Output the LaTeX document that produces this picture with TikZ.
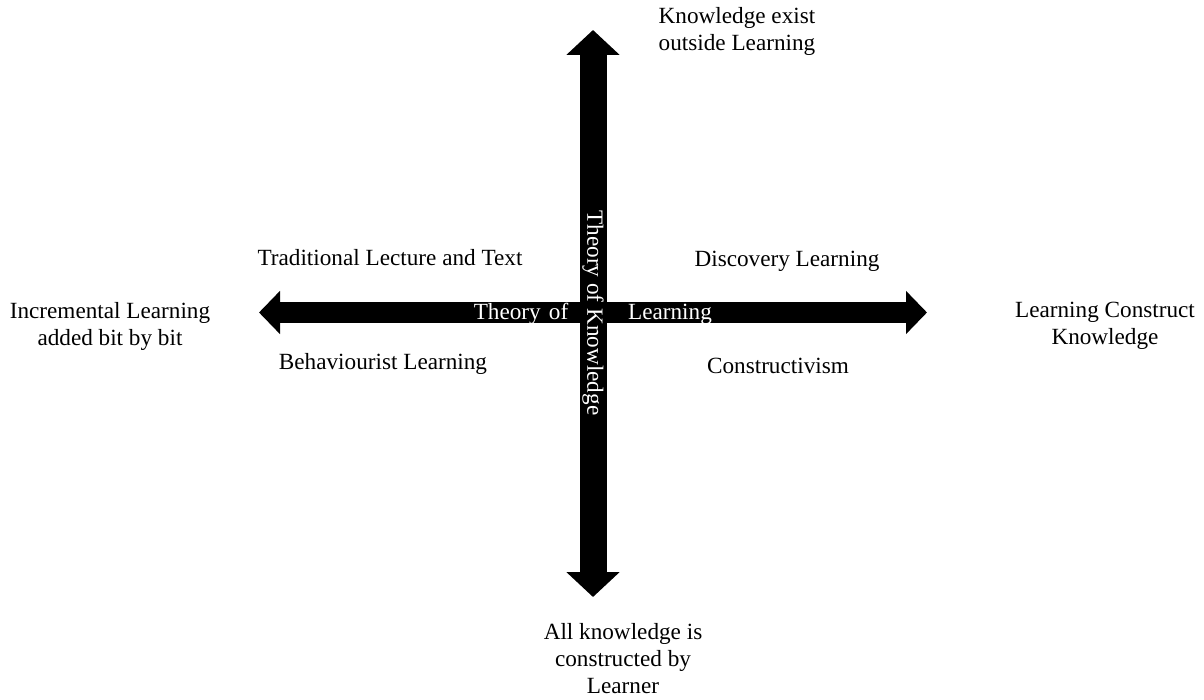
\documentclass[tikz,border=0pt]{standalone}
\usepackage{fontspec}
\setmainfont{Liberation Serif}
\usetikzlibrary{arrows.meta}
\tikzset{
  lbl/.style={font=\fontsize{23.2}{27}\selectfont, align=center, inner sep=0pt, text=black},
  onarrow/.style={font=\fontsize{23.2}{27}\selectfont, inner sep=0pt, text=white},
  vaxis/.style={line width=27pt, {Triangle[width=52pt,length=25pt]}-{Triangle[width=52pt,length=25pt]}},
  haxis/.style={line width=21pt, {Triangle[width=42pt,length=21pt]}-{Triangle[width=42pt,length=21pt]}},
}
\begin{document}
\begin{tikzpicture}[x=1pt,y=-1pt]
\useasboundingbox (0,0) rectangle (1204,700);
\coordinate (ltip) at (259,312.5);
\coordinate (rtip) at (927,312.5);
\coordinate (ttip) at (593,30);
\coordinate (btip) at (593,597);
\draw[haxis] (ltip) -- (rtip);
\draw[vaxis] (ttip) -- (btip);
\node[onarrow] (tol) at (521,314) {Theory\hspace{0.35em}of};
\node[onarrow] (lrn) at (670,314) {Learning};
\node[onarrow, rotate=-90] (tok) at (593,313) {Theory of Knowledge};
\node[lbl] (top) at (737,31) {Knowledge exist\\outside Learning};
\node[lbl] (bot) at (623,659) {All knowledge is\\constructed by\\Learner};
\node[lbl] (left) at (110,326) {Incremental Learning\\added bit by bit};
\node[lbl] (right) at (1105,326) {Learning Construct\\Knowledge};
\node[lbl] (tl) at (390,258) {Traditional Lecture and Text};
\node[lbl] (tr) at (787,261) {Discovery Learning};
\node[lbl] (bl) at (383,364) {Behaviourist Learning};
\node[lbl] (br) at (778,366) {Constructivism};
\end{tikzpicture}
\end{document}
